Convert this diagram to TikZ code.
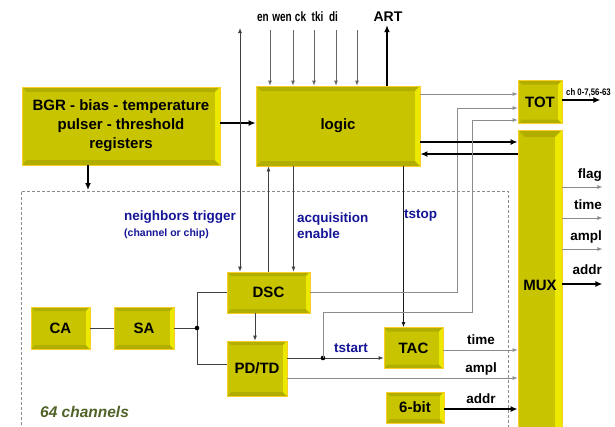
\documentclass[tikz,border=0pt]{standalone}
\usepackage{fontspec}
\usepackage{graphicx}
\setmainfont{Liberation Sans}
\usetikzlibrary{arrows.meta,positioning,calc}

\definecolor{boxfill}{RGB}{200,196,0}
\definecolor{boxdark}{RGB}{178,174,0}
\definecolor{boxlite}{RGB}{236,232,0}
\definecolor{boxedge}{RGB}{250,206,40}
\definecolor{labblue}{RGB}{20,20,150}
\definecolor{labgreen}{RGB}{79,98,40}

% bevelled look of the blocks
\newcommand\boxbevel[1]{%
  \fill[boxdark] (path picture bounding box.north west) -- (path picture bounding box.north east)
    -- ([shift={(-#1,-#1)}]path picture bounding box.north east)
    -- ([shift={(#1,-#1)}]path picture bounding box.north west) -- cycle;
  \fill[boxdark] (path picture bounding box.south west) -- (path picture bounding box.south east)
    -- ([shift={(-#1,#1)}]path picture bounding box.south east)
    -- ([shift={(#1,#1)}]path picture bounding box.south west) -- cycle;
  \fill[boxlite] (path picture bounding box.north east) -- (path picture bounding box.south east)
    -- ([shift={(-#1,#1)}]path picture bounding box.south east)
    -- ([shift={(-#1,-#1)}]path picture bounding box.north east) -- cycle;
}

\begin{document}
\begin{tikzpicture}[
  x=1pt,y=-1pt,
  blk/.style={draw=boxedge, fill=boxfill, line width=0.8pt, inner sep=0pt,
    align=center, font=\fontsize{15}{19}\selectfont\bfseries,
    path picture={\boxbevel{#1}}},
  blk/.default=4pt,
  wire/.style={draw=black!75, line width=0.8pt},
  arrow/.style={wire, -{Latex[length=5pt,width=4pt]}},
  garrow/.style={arrow, draw=black!45},
  thkarrow/.style={-{Latex[length=7pt,width=6pt]}, line width=2pt, draw=black},
  toplab/.style={font=\fontsize{13.5}{15}\selectfont\bfseries, anchor=base, inner sep=0pt},
  outlab/.style={font=\fontsize{13.5}{16}\selectfont\bfseries, anchor=base east, inner sep=0pt},
  midlab/.style={font=\fontsize{13.5}{16}\selectfont\bfseries, anchor=base, inner sep=0pt},
  bluelab/.style={font=\fontsize{13.5}{16}\selectfont\bfseries, text=labblue,
    align=left, inner sep=0pt},
  chbox/.style={draw=black!45, dash pattern=on 3pt off 2pt, line width=0.9pt}
]
  \useasboundingbox (0,0) rectangle (615,426);

  % channel area
  \draw[chbox] (21,440) -- (21,191) -- (508,191) -- (508,440);
  \node[font=\fontsize{15.5}{18}\selectfont\bfseries\itshape, text=labgreen,
    anchor=base west, inner sep=0pt] (nch) at (40,417) {64 channels};

  % blocks
  \node[blk=5pt, minimum width=198pt, minimum height=78pt] (bgr) at (121,126)
    {BGR - bias - temperature\\pulser - threshold\\registers};
  \node[blk=5pt, minimum width=164pt, minimum height=80pt] (logic) at (338,126) {logic};
  \node[blk, minimum width=44pt, minimum height=43pt] (tot) at (540,102) {TOT};
  \node[blk=7pt, minimum width=44pt, minimum height=310pt] (mux) at (540,285) {MUX};
  \node[blk, minimum width=83pt, minimum height=41pt] (dsc) at (268.5,292.5) {DSC};
  \node[blk, minimum width=59pt, minimum height=42pt] (ca) at (60.5,328) {CA};
  \node[blk, minimum width=60pt, minimum height=42pt] (sa) at (144,328) {SA};
  \node[blk, minimum width=60pt, minimum height=55pt] (pdtd) at (257,368.5) {PD/TD};
  \node[blk, minimum width=59pt, minimum height=41pt] (tac) at (413.5,348) {TAC};
  \node[blk, minimum width=58pt, minimum height=31pt] (bit6) at (415,407.5) {6-bit};

  % inputs of the logic
  \foreach \n/\lx/\ax in {en/263/270, wen/282/293, ck/300.5/314, tki/317.5/336, di/333.5/357} {
    \node[toplab] (l-\n) at (\lx,21) {\scalebox{0.74}[1]{\n}};
    \coordinate (i-\n) at (\ax,30);
    \draw[arrow, draw=black!60] (i-\n) -- (i-\n |- logic.north);
  }
  \node[toplab, font=\fontsize{14}{16}\selectfont\bfseries] (art) at (388,21) {ART};
  \draw[thkarrow] ([xshift=-1pt]art.south |- logic.north) -- ([xshift=-1pt,yshift=-4pt]art.south);

  \draw[thkarrow] ([yshift=3pt]bgr.east) -- ([yshift=3pt]bgr.east -| logic.west);
  \draw[thkarrow] ([xshift=-33pt]bgr.south) -- ([xshift=-33pt]bgr.south |- 0,190);

  % logic <-> channel
  \coordinate (ntop) at (240,28);
  \draw[wire, {Latex[length=5pt,width=4pt]}-{Latex[length=5pt,width=4pt]}] (ntop) -- (ntop |- dsc.north);
  \draw[arrow] (dsc.north) -- (dsc.north |- logic.south);
  \draw[arrow] ([xshift=25pt]dsc.north |- logic.south) -- ([xshift=25pt]dsc.north);
  \draw[arrow, draw=black!90] ([xshift=-10pt]tac.north |- logic.south) -- ([xshift=-10pt]tac.north);

  \node[bluelab, anchor=base west] (ntrig) at (124,236)
    {neighbors trigger\\{\fontsize{10.5}{12}\selectfont (channel or chip)}};
  \node[bluelab, anchor=base west] (acq) at (297,238) {acquisition\\enable};
  \node[bluelab, anchor=base west] (tstop) at (404,218) {tstop};

  % logic, TOT, MUX
  \draw[garrow] ([yshift=8pt]tot.west -| logic.east) -- ([yshift=8pt]tot.west);
  \draw[garrow] (dsc.east) -- ++(147,0) |- ([yshift=-6pt]tot.west);
  \draw[thkarrow] ([yshift=-16pt]logic.east) -- ([yshift=-16pt]logic.east -| mux.west);
  \draw[thkarrow] ([yshift=-28pt]logic.east -| mux.west) -- ([yshift=-28pt]logic.east);
  \draw[thkarrow] ([yshift=2pt]tot.east) -- ++(38,0);
  \node[font=\fontsize{9.5}{11}\selectfont\bfseries, anchor=base west, inner sep=0pt]
    (chlab) at (566,95) {\scalebox{0.82}[1]{ch 0-7,56-63}};

  \foreach \lab/\y in {flag/187, time/218, ampl/249} {
    \draw[garrow] (mux.east |- 0,\y) -- ++(40,0);
    \node[outlab] (o-\lab) at (602,\y-9) {\lab};
  }
  \draw[thkarrow] (mux.east |- 0,284) -- ++(40,0);
  \node[outlab] (o-addr) at (602,274) {addr};

  % front end
  \coordinate (sadot) at (197,328);
  \draw[wire] (ca) -- (sa);
  \draw[wire] (sa) -- (sadot);
  \draw[wire] (sadot) |- (dsc.west);
  \draw[wire] (sadot) |- ([yshift=4.5pt]pdtd.west);
  \fill[black] (sadot) circle (2.3pt);
  \draw[arrow] ([xshift=-13.5pt]dsc.south) -- ([xshift=-13.5pt]dsc.south |- pdtd.north);

  \coordinate (tsdot) at (323,358);
  \draw[arrow] ([yshift=-10pt]tac.west -| pdtd.east) -- ([yshift=-10pt]tac.west);
  \fill[black] (tsdot) circle (2.3pt);
  \draw[garrow] (tsdot) -- ++(0,-46) -- ++(149,0) |- ([yshift=-18pt]tot.west);
  \node[bluelab, anchor=base] (tstart) at (351,352) {tstart};

  \draw[garrow] ([yshift=-2pt]tac.east) -- ([yshift=-2pt]tac.east -| mux.west);
  \node[midlab] (m-time) at (481,344) {time};
  \draw[garrow] ([yshift=-9.5pt]pdtd.east) -- ([yshift=-9.5pt]pdtd.east -| mux.west);
  \node[midlab] (m-ampl) at (481,372) {ampl};
  \draw[thkarrow] ([yshift=-1.5pt]bit6.east) -- ([yshift=-1.5pt]bit6.east -| mux.west);
  \node[midlab] (m-addr) at (481,403) {addr};
\end{tikzpicture}
\end{document}
